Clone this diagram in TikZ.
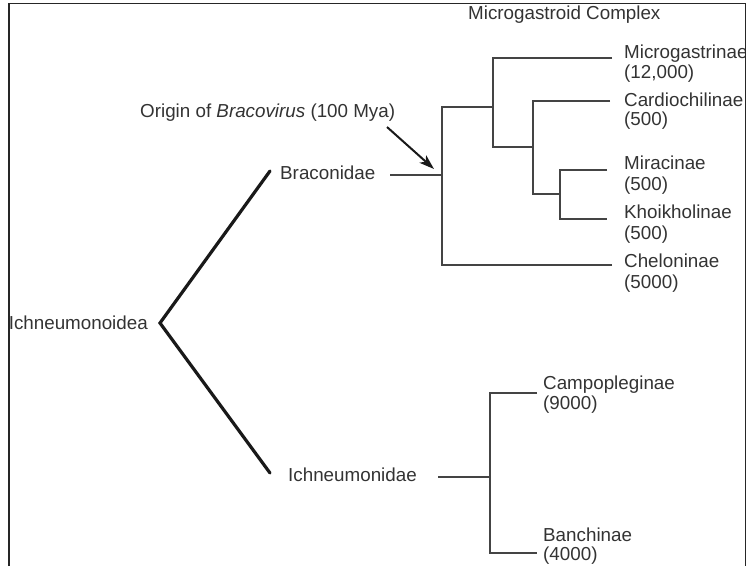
\documentclass[tikz,border=0pt]{standalone}
\usepackage{fontspec}
\setmainfont{Liberation Sans}
\usetikzlibrary{arrows.meta}
\definecolor{txt}{HTML}{333333}
\definecolor{tree}{HTML}{444444}
\tikzset{
  lbl/.style={anchor=base west, inner sep=0pt, text=txt, font=\fontsize{18.8}{21}\selectfont},
  lble/.style={lbl, anchor=base east},
  branch/.style={draw=tree, line width=2.2pt},
  stem/.style={draw=black!90, line width=3.2pt, line cap=round},
  frame/.style={draw=black!85, line width=1.3pt}
}
\begin{document}
\begin{tikzpicture}[x=1pt,y=-1pt]
\useasboundingbox (0,0) rectangle (748,566);
\begin{scope}
\clip (9,3.5) rectangle (745.5,566);
% labels
\node[lbl] (mgc) at (468,19) {Microgastroid Complex};
\node[lbl] (orig) at (140,117) {Origin of \textit{Bracovirus} (100 Mya)};
\node[lble] (ichs) at (148,329) {Ichneumonoidea};
\node[lbl] (brac) at (280,179) {Braconidae};
\node[lbl] (ichn) at (288,481) {Ichneumonidae};
\node[lbl] (mic)  at (624,58)  {Microgastrinae};
\node[lbl] (micn) at (624,78)  {(12,000)};
\node[lbl] (car)  at (624,106) {Cardiochilinae};
\node[lbl] (carn) at (624,125) {(500)};
\node[lbl] (mir)  at (624,169) {Miracinae};
\node[lbl] (mirn) at (624,190) {(500)};
\node[lbl] (kho)  at (624,218) {Khoikholinae};
\node[lbl] (khon) at (624,239) {(500)};
\node[lbl] (che)  at (624,267) {Cheloninae};
\node[lbl] (chen) at (624,288) {(5000)};
\node[lbl] (cam)  at (543,389) {Campopleginae};
\node[lbl] (camn) at (543,409) {(9000)};
\node[lbl] (ban)  at (543,541) {Banchinae};
\node[lbl] (bann) at (543,560) {(4000)};
% coordinates
\coordinate (root) at (160,323);
\coordinate (bT) at (270,171);
\coordinate (iT) at (270,473);
\coordinate (bL) at (390,175);
\coordinate (bJ) at (442,175);
\coordinate (bTop) at (442,107);
\coordinate (bBot) at (442,265);
\coordinate (n1) at (493,107);
\coordinate (n1t) at (493,58);
\coordinate (n1b) at (493,147);
\coordinate (n2) at (533,147);
\coordinate (n2t) at (533,101);
\coordinate (n2b) at (533,194);
\coordinate (n3) at (560,194);
\coordinate (n3t) at (560,170);
\coordinate (n3b) at (560,219);
\coordinate (eMic) at (612,58);
\coordinate (eCar) at (610,101);
\coordinate (eMir) at (607,170);
\coordinate (eKho) at (607,219);
\coordinate (eChe) at (612,265);
\coordinate (iL) at (438,477);
\coordinate (iJ) at (490,477);
\coordinate (iTop) at (490,393);
\coordinate (iBot) at (490,553);
\coordinate (eCam) at (537,393);
\coordinate (eBan) at (537,553);
\coordinate (aS) at (387,127);
\coordinate (aE) at (434,169);
% stems
\draw[stem] (bT) -- (root) -- (iT);
% Braconidae
\draw[branch] (bL) -- (bJ);
\draw[branch] (eChe) -- (bBot) -- (bTop) -- (n1);
\draw[branch] (eMic) -- (n1t) -- (n1b) -- (n2);
\draw[branch] (eCar) -- (n2t) -- (n2b) -- (n3);
\draw[branch] (eMir) -- (n3t) -- (n3b) -- (eKho);
% Ichneumonidae
\draw[branch] (iL) -- (iJ);
\draw[branch] (eCam) -- (iTop) -- (iBot) -- (eBan);
% arrow
\draw[draw=black!90, line width=2pt, -{Stealth[length=15pt,width=10pt,inset=4pt]}] (aS) -- (aE);
\end{scope}
% frame
\draw[frame] (9,566) -- (9,3.5) -- (745.5,3.5) -- (745.5,566);
\end{tikzpicture}
\end{document}
